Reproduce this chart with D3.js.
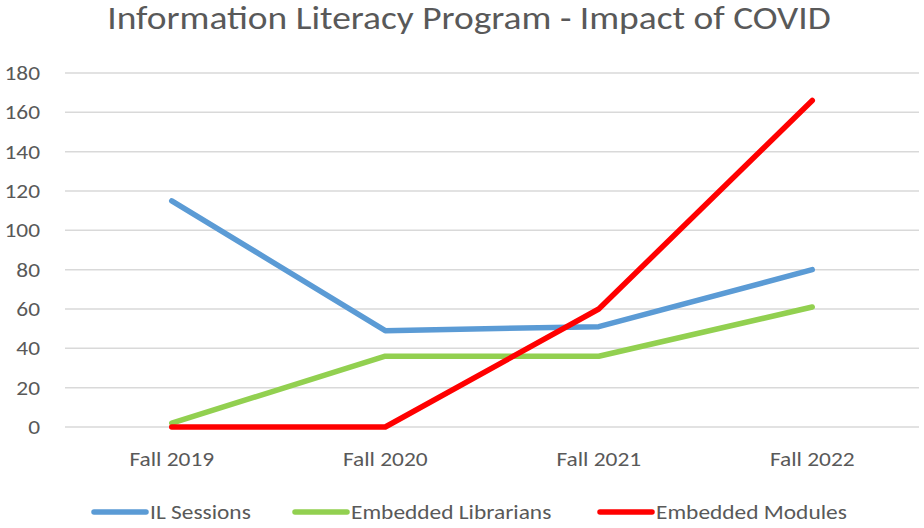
<!DOCTYPE html>
<html>
<head>
<meta charset="utf-8">
<script src="https://cdn.jsdelivr.net/npm/d3@7"></script>
<style>
  body { margin: 0; background: #fff; }
  svg text { font-family: Carlito, "Liberation Sans Narrow", "Open Sans", sans-serif; fill: #595959; }
</style>
</head>
<body>
<div id="chart"></div>
<script>
// chart data
const categories = ["Fall 2019", "Fall 2020", "Fall 2021", "Fall 2022"];
const ilSessions = [115, 49, 51, 80];
const embeddedLibrarians = [2, 36, 36, 61];
const embeddedModules = [0, 0, 60, 166];
const yTicks = [0, 20, 40, 60, 80, 100, 120, 140, 160, 180];
const seriesNames = ["IL Sessions", "Embedded Librarians", "Embedded Modules"];
const seriesColors = ["#5B9BD5", "#92D050", "#FF0000"];

const width = 924, height = 528;
const margin = { top: 73, right: 5, bottom: 101, left: 65 };
const stretch = "scale(1.17,1)"; // text in the source is a bit wider than Carlito

const svg = d3.select("#chart")
  .append("svg")
  .attr("width", width)
  .attr("height", height);

svg.append("text")
  .attr("transform", "translate(469,29) " + stretch)
  .attr("text-anchor", "middle")
  .style("font-size", "32px")
  .text("Information Literacy Program - Impact of COVID");

const x = d3.scaleBand()
  .domain(categories)
  .range([margin.left, width - margin.right]);

const y = d3.scaleLinear()
  .domain([0, 180])
  .range([height - margin.bottom, margin.top]);

// gridlines
svg.append("g")
  .selectAll("line")
  .data(yTicks)
  .enter()
  .append("line")
  .attr("x1", margin.left)
  .attr("x2", width - margin.right)
  .attr("y1", d => y(d))
  .attr("y2", d => y(d))
  .attr("stroke", "#d9d9d9")
  .attr("stroke-width", 1.5);

// y axis labels
const yAxis = svg.append("g")
  .attr("transform", "translate(40,0)")
  .call(d3.axisLeft(y).tickValues(yTicks).tickSize(0).tickPadding(0));
yAxis.select(".domain").remove();
yAxis.selectAll("text")
  .style("font-size", "20px")
  .attr("fill", "#595959")
  .attr("transform", stretch);

// x axis labels
const xAxis = svg.append("g")
  .attr("transform", "translate(0," + (height - margin.bottom) + ")")
  .call(d3.axisBottom(x).tickSize(0).tickPadding(25));
xAxis.select(".domain").remove();
xAxis.selectAll("text")
  .style("font-size", "20px")
  .attr("fill", "#595959")
  .attr("transform", stretch);

const series = [ilSessions, embeddedLibrarians, embeddedModules];
const line = d3.line()
  .x((d, i) => x(categories[i]) + x.bandwidth() / 2)
  .y(d => y(d));

svg.append("g")
  .selectAll("path")
  .data(series)
  .enter()
  .append("path")
  .attr("d", d => line(d))
  .attr("fill", "none")
  .attr("stroke", (d, i) => seriesColors[i])
  .attr("stroke-width", 5.5)
  .attr("stroke-linejoin", "round")
  .attr("stroke-linecap", "round");

// legend
const legendX = [94, 295, 600];
const legend = svg.append("g")
  .selectAll("g")
  .data(seriesNames)
  .enter()
  .append("g")
  .attr("transform", (d, i) => "translate(" + legendX[i] + ",512)");

legend.append("line")
  .attr("x1", 0)
  .attr("x2", 52)
  .attr("stroke", (d, i) => seriesColors[i])
  .attr("stroke-width", 5.5)
  .attr("stroke-linecap", "round");

legend.append("text")
  .attr("transform", "translate(56,7) " + stretch)
  .style("font-size", "20px")
  .text(d => d);
</script>
</body>
</html>
